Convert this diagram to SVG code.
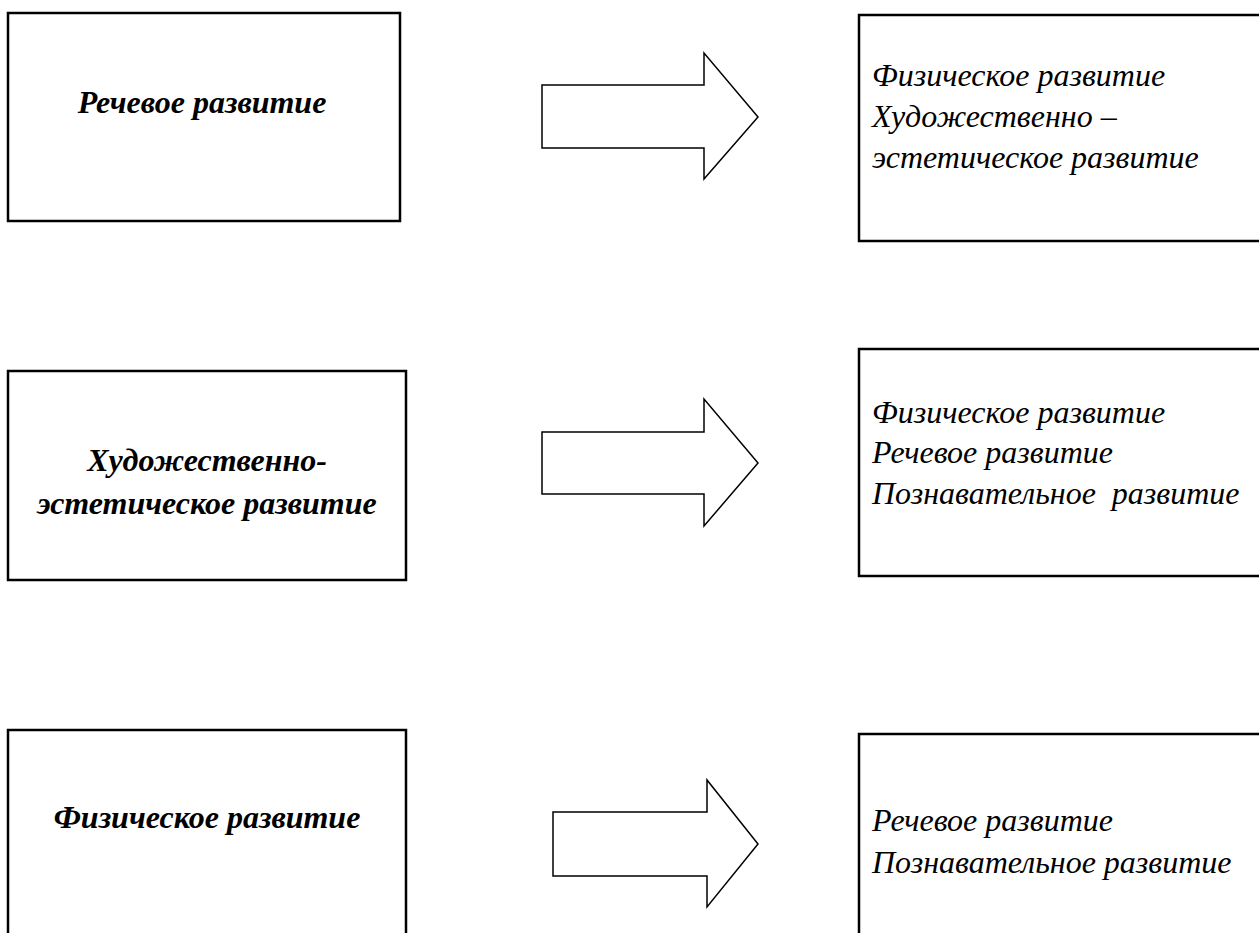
<svg xmlns="http://www.w3.org/2000/svg" width="1259" height="933" viewBox="0 0 1259 933">
<style>
.box{fill:#fff;stroke:#000;stroke-width:2.5}
.arr{fill:#fff;stroke:#000;stroke-width:1.5;stroke-linejoin:miter}
.b{font-family:"Liberation Serif","Times New Roman",serif;font-style:italic;font-weight:bold;font-size:32px;fill:#000;text-anchor:middle}
.r{font-family:"Liberation Serif","Times New Roman",serif;font-style:italic;font-size:32px;fill:#000}
</style>
<rect width="1259" height="933" fill="#fff"/>
<g id="node-left-1"><rect class="box" x="8" y="13" width="392" height="208"/><text class="b" x="202" y="113">Речевое развитие</text></g>
<g id="node-right-1"><rect class="box" x="859" y="15" width="420" height="226"/><text class="r" x="872" y="86">Физическое развитие</text><text class="r" x="872" y="127">Художественно –</text><text class="r" x="872" y="168">эстетическое развитие</text></g>
<g id="node-left-2"><rect class="box" x="8" y="371" width="398" height="209"/><text class="b" x="207" y="471">Художественно-</text><text class="b" x="207" y="514">эстетическое развитие</text></g>
<g id="node-right-2"><rect class="box" x="859" y="349" width="420" height="227"/><text class="r" x="872" y="423">Физическое развитие</text><text class="r" x="872" y="463">Речевое развитие</text><text class="r" x="872" y="504" xml:space="preserve">Познавательное  развитие</text></g>
<g id="node-left-3"><rect class="box" x="8" y="730" width="398" height="230"/><text class="b" x="207" y="828">Физическое развитие</text></g>
<g id="node-right-3"><rect class="box" x="859" y="734" width="420" height="230"/><text class="r" x="872" y="831">Речевое развитие</text><text class="r" x="872" y="873">Познавательное развитие</text></g>
<g id="connectors">
<polygon class="arr" points="542,85 704,85 704,53 758,117 704,179 704,148 542,148"/>
<polygon class="arr" points="542,432 704,432 704,399 758,463 704,526 704,494 542,494"/>
<polygon class="arr" points="553,812 707,812 707,780 758,844 707,907 707,876 553,876"/>
</g>
</svg>
